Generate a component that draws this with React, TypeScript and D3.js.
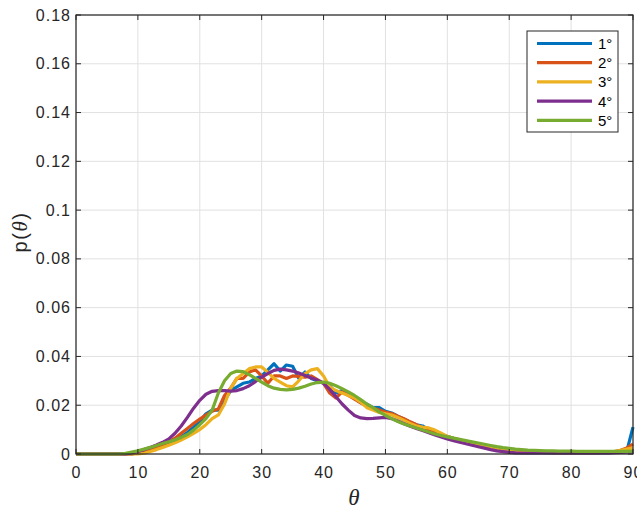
import React from "react";
import * as d3 from "d3";

const thetas: number[] = d3.range(0, 91);

const s1: number[] = [
  0, 0, 0, 0, 0, 0, 0, 0, 0, 0,
  0.0004, 0.001, 0.0017, 0.0025, 0.0033, 0.0042, 0.0055, 0.007, 0.0088, 0.011,
  0.0135, 0.0165, 0.018, 0.018, 0.022, 0.026, 0.0275, 0.029, 0.0295, 0.031,
  0.032, 0.0345, 0.037, 0.034, 0.0365, 0.036, 0.031, 0.0336, 0.031, 0.03,
  0.029, 0.028, 0.025, 0.026, 0.0245, 0.023, 0.021, 0.0205, 0.019, 0.019,
  0.0175, 0.0168, 0.0155, 0.0143, 0.013, 0.012, 0.0115, 0.0098, 0.009, 0.008,
  0.0072, 0.0064, 0.0057, 0.005, 0.0043, 0.0036, 0.003, 0.0024, 0.0018, 0.0013,
  0.001, 0.0008, 0.0006, 0.0006, 0.0006, 0.0006, 0.0006, 0.0006, 0.0006, 0.0006,
  0.0006, 0.0006, 0.0006, 0.0006, 0.0006, 0.0006, 0.0006, 0.0007, 0.0008, 0.0012,
  0.011,
];

const s2: number[] = [
  0, 0, 0, 0, 0, 0, 0, 0, 0, 0,
  0.0005, 0.001, 0.0018, 0.0027, 0.0037, 0.005, 0.0065, 0.0085, 0.0105, 0.0125,
  0.0143, 0.016, 0.0175, 0.0185, 0.024, 0.027, 0.031, 0.031, 0.0336, 0.0345,
  0.032, 0.029, 0.032, 0.032, 0.031, 0.032, 0.0318, 0.0315, 0.032, 0.0305,
  0.029, 0.025, 0.023, 0.0255, 0.024, 0.0225, 0.021, 0.0195, 0.0188, 0.018,
  0.0172, 0.0166, 0.0155, 0.0145, 0.0132, 0.012, 0.0108, 0.0098, 0.0088, 0.008,
  0.0072, 0.0064, 0.0057, 0.005, 0.0044, 0.0038, 0.0032, 0.0027, 0.0022, 0.0018,
  0.0014, 0.0011, 0.0008, 0.0008, 0.0007, 0.0007, 0.0007, 0.0006, 0.0006, 0.0006,
  0.0006, 0.0006, 0.0006, 0.0006, 0.0006, 0.0007, 0.0008, 0.001, 0.0015, 0.0025,
  0.004,
];

const s3: number[] = [
  0, 0, 0, 0, 0, 0, 0, 0, 0, 0,
  0, 0.0003, 0.001, 0.0018, 0.0027, 0.0036, 0.0046, 0.0057, 0.007, 0.0085,
  0.01, 0.012, 0.0145, 0.016, 0.0205, 0.027, 0.031, 0.033, 0.035, 0.0357,
  0.0357, 0.0335, 0.031, 0.0295, 0.028, 0.0275, 0.03, 0.033, 0.0345, 0.035,
  0.032, 0.0275, 0.026, 0.025, 0.024, 0.023, 0.0213, 0.019, 0.018, 0.017,
  0.0165, 0.016, 0.015, 0.0138, 0.0125, 0.0115, 0.011, 0.0107, 0.0098, 0.0085,
  0.0072, 0.0064, 0.0057, 0.005, 0.0044, 0.0038, 0.0032, 0.0026, 0.002, 0.0016,
  0.0012, 0.0009, 0.0008, 0.0008, 0.0008, 0.0008, 0.0008, 0.0008, 0.0008, 0.0008,
  0.0008, 0.0008, 0.0008, 0.0008, 0.0008, 0.001, 0.001, 0.001, 0.0015, 0.002,
  0.0025,
];

const s4: number[] = [
  0, 0, 0, 0, 0, 0, 0, 0, 0, 0.0004,
  0.001, 0.0018, 0.0027, 0.0037, 0.0048, 0.0062, 0.0085, 0.0115, 0.015, 0.0188,
  0.022, 0.0245, 0.0257, 0.026, 0.026, 0.0258, 0.026, 0.0268, 0.028, 0.0297,
  0.0315, 0.033, 0.0343, 0.0348, 0.0345, 0.034, 0.0332, 0.0322, 0.0312, 0.0303,
  0.029, 0.0265, 0.0235, 0.0205, 0.018, 0.0158, 0.0148, 0.0145, 0.0146, 0.0148,
  0.015, 0.0145, 0.0135, 0.0124, 0.0114, 0.0105, 0.0096, 0.0087, 0.0078, 0.007,
  0.0062, 0.0055, 0.0048, 0.0042, 0.0036, 0.003, 0.0024, 0.0018, 0.0013, 0.001,
  0.0007, 0.0005, 0.0004, 0.0004, 0.0004, 0.0004, 0.0004, 0.0004, 0.0004, 0.0004,
  0.0004, 0.0004, 0.0004, 0.0004, 0.0004, 0.0004, 0.0005, 0.0006, 0.0007, 0.0008,
  0.001,
];

const s5: number[] = [
  0, 0, 0, 0, 0, 0, 0, 0, 0.0003, 0.0008,
  0.0013, 0.002, 0.0027, 0.0035, 0.0043, 0.005, 0.0058, 0.0068, 0.008, 0.0098,
  0.012, 0.0145, 0.018, 0.025, 0.03, 0.033, 0.034, 0.0338, 0.0325, 0.031,
  0.0295, 0.028, 0.027, 0.0265, 0.0263, 0.0265, 0.027, 0.0278, 0.0287, 0.0293,
  0.0295, 0.029, 0.028, 0.0268, 0.0255, 0.024, 0.0223, 0.0205, 0.019, 0.0173,
  0.0158, 0.0145, 0.0133, 0.0123, 0.0115, 0.0107, 0.0098, 0.009, 0.0082, 0.0076,
  0.007, 0.0065, 0.006, 0.0055, 0.005, 0.0045, 0.004, 0.0035, 0.003, 0.0026,
  0.0023, 0.002, 0.0018, 0.0016, 0.0015, 0.0014, 0.0013, 0.0013, 0.0012, 0.0012,
  0.0012, 0.0011, 0.0011, 0.0011, 0.0011, 0.0011, 0.0011, 0.0011, 0.0011, 0.0011,
  0.0012,
];

const seriesNames: string[] = ["1°", "2°", "3°", "4°", "5°"];
const seriesValues: number[][] = [s1, s2, s3, s4, s5];
const colors: string[] = ["#0072BD", "#D95319", "#EDB120", "#7E2F8E", "#77AC30"];
const xTicks: number[] = d3.range(0, 91, 10);
const yTicks: number[] = [0, 0.02, 0.04, 0.06, 0.08, 0.1, 0.12, 0.14, 0.16, 0.18];
const yTickLabels: string[] = ["0", "0.02", "0.04", "0.06", "0.08", "0.1", "0.12", "0.14", "0.16", "0.18"];

const W = 637;
const H = 512;
const left = 76;
const right = 633;
const top = 15;
const bottom = 454;

export default function App() {
  const x = d3.scaleLinear().domain([0, 90]).range([left, right]);
  const y = d3.scaleLinear().domain([0, 0.18]).range([bottom, top]);
  const line = d3
    .line<number>()
    .x((_, i) => x(thetas[i]))
    .y((d) => y(d));
  const font = "Arial, 'Liberation Sans', Helvetica, sans-serif";
  const serif = "'Times New Roman', 'Liberation Serif', serif";
  const axisColor = "#262626";
  const tickLen = 5;
  const legX = 527;
  const legY = 31;
  const legW = 91;
  const legH = 101;
  return (
    <svg
      width={W}
      height={H}
      style={{ position: "absolute", left: 0, top: 0, background: "#fff" }}
      fontFamily={font}
    >
      <rect x={0} y={0} width={W} height={H} fill="#fff" />
      {/* grid */}
      {xTicks.map((t) => (
        <line key={"gx" + t} x1={x(t)} x2={x(t)} y1={top} y2={bottom} stroke="#e1e1e1" strokeWidth={1} />
      ))}
      {yTicks.map((t) => (
        <line key={"gy" + t} x1={left} x2={right} y1={y(t)} y2={y(t)} stroke="#e1e1e1" strokeWidth={1} />
      ))}
      {/* series */}
      <g>
        {seriesValues.map((vals, k) => (
          <path
            key={"s" + k}
            d={line(vals) || ""}
            fill="none"
            stroke={colors[k]}
            strokeWidth={3.2}
            strokeLinejoin="round"
          />
        ))}
      </g>
      {/* axes box */}
      <rect x={left} y={top} width={right - left} height={bottom - top} fill="none" stroke={axisColor} strokeWidth={1.2} />
      {xTicks.map((t) => (
        <g key={"tx" + t}>
          <line x1={x(t)} x2={x(t)} y1={bottom} y2={bottom - tickLen} stroke={axisColor} />
          <line x1={x(t)} x2={x(t)} y1={top} y2={top + tickLen} stroke={axisColor} />
          <text x={x(t) + 0.5} y={478} textAnchor="middle" fontSize={16} letterSpacing={1} fill={axisColor}>
            {t}
          </text>
        </g>
      ))}
      {yTicks.map((t, i) => (
        <g key={"ty" + t}>
          <line x1={left} x2={left + tickLen} y1={y(t)} y2={y(t)} stroke={axisColor} />
          <line x1={right} x2={right - tickLen} y1={y(t)} y2={y(t)} stroke={axisColor} />
          <text x={71} y={y(t) + 5.5} textAnchor="end" fontSize={16} letterSpacing={1} fill={axisColor}>
            {yTickLabels[i]}
          </text>
        </g>
      ))}
      {/* axis labels */}
      <text x={354} y={505} textAnchor="middle" fontSize={23} fontStyle="italic" fontFamily={serif} fill={axisColor}>
        θ
      </text>
      <text
        transform={`translate(27, 232) rotate(-90)`}
        textAnchor="middle"
        fontSize={20}
        letterSpacing={1.5}
        fill={axisColor}
      >
        p(<tspan fontStyle="italic" fontFamily={serif} fontSize={21}>θ</tspan>)
      </text>
      {/* legend */}
      <rect x={legX} y={legY} width={legW} height={legH} fill="#fff" stroke={axisColor} strokeWidth={1} />
      {seriesNames.map((n, k) => {
        const ry = legY + 12.5 + k * 19.2;
        return (
          <g key={"l" + k}>
            <line x1={legX + 10} x2={legX + 65} y1={ry} y2={ry} stroke={colors[k]} strokeWidth={3.2} />
            <text x={legX + 71} y={ry + 5.5} fontSize={15} fill="#000">
              {n}
            </text>
          </g>
        );
      })}
    </svg>
  );
}
